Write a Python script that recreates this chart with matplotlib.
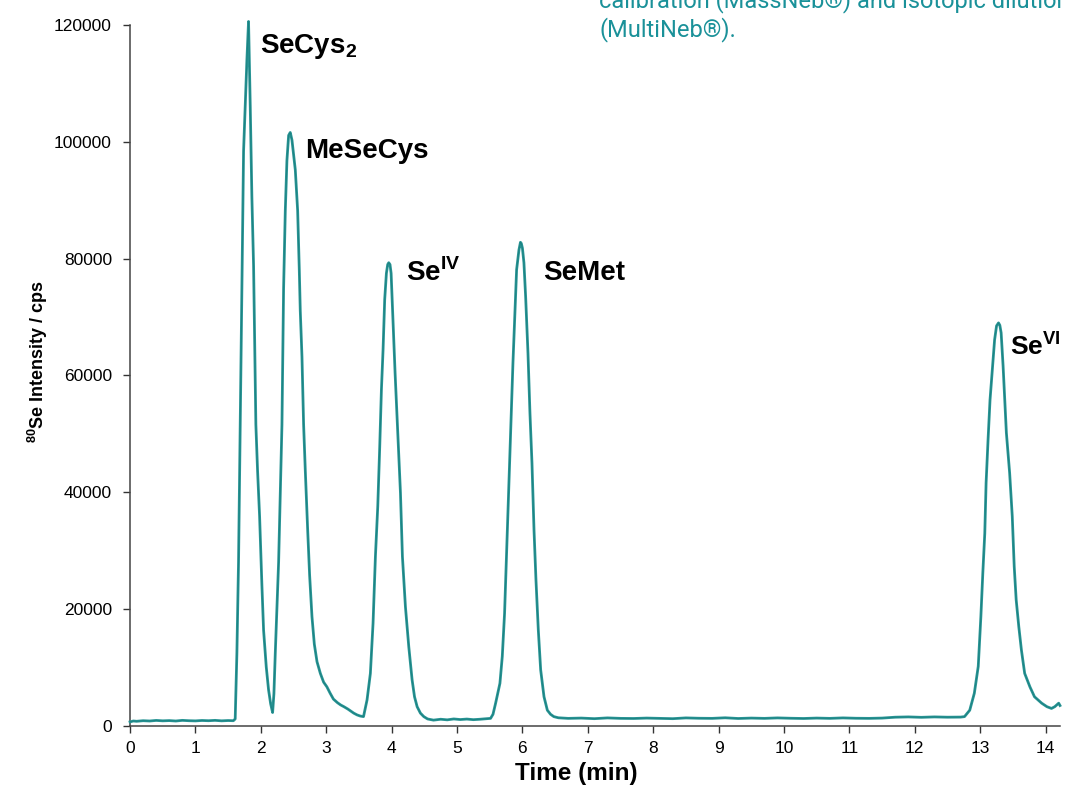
import matplotlib
matplotlib.use("Agg")
import matplotlib.pyplot as plt

# ---- data ----
time_min = [
    0.00, 0.05, 0.10, 0.20, 0.30, 0.40, 0.50, 0.60, 0.70, 0.80, 0.90, 1.00,
    1.10, 1.20, 1.30, 1.40, 1.50, 1.58,
    1.608, 1.634, 1.659, 1.685, 1.710, 1.736, 1.761, 1.787, 1.812, 1.838,
    1.863, 1.889, 1.904, 1.924, 1.950, 1.981, 2.016, 2.042, 2.083, 2.118,
    2.150, 2.180, 2.200, 2.221, 2.272, 2.323, 2.348, 2.374, 2.399, 2.425,
    2.450, 2.476, 2.527, 2.563, 2.588, 2.603, 2.629, 2.654, 2.680, 2.716,
    2.746, 2.782, 2.818, 2.859, 2.910, 2.960, 3.010, 3.060, 3.110, 3.170,
    3.220, 3.270, 3.330, 3.380, 3.420, 3.470, 3.520, 3.570,
    3.624, 3.675, 3.716, 3.752, 3.788, 3.818, 3.844, 3.869, 3.894, 3.920,
    3.940, 3.956, 3.975, 3.992, 4.022, 4.053, 4.094, 4.135, 4.165, 4.211,
    4.262, 4.313, 4.350, 4.390, 4.440, 4.492, 4.550,
    4.64, 4.75, 4.85, 4.95, 5.05, 5.15, 5.25, 5.35, 5.45,
    5.513, 5.550, 5.590, 5.656, 5.692, 5.727, 5.753, 5.778, 5.804, 5.830,
    5.855, 5.885, 5.911, 5.947, 5.970, 5.983, 6.000, 6.023, 6.049, 6.085,
    6.115, 6.146, 6.177, 6.207, 6.243, 6.279, 6.330, 6.381, 6.430, 6.480,
    6.55, 6.70, 6.90, 7.10, 7.30, 7.50, 7.70, 7.90, 8.10, 8.30, 8.50, 8.70,
    8.90, 9.10, 9.30, 9.50, 9.70, 9.90, 10.10, 10.30, 10.50, 10.70, 10.90,
    11.10, 11.30, 11.50, 11.70, 11.90, 12.10, 12.30, 12.50, 12.70,
    12.76, 12.84, 12.91, 12.97, 13.01, 13.04, 13.07, 13.09, 13.12, 13.15,
    13.19, 13.22, 13.25, 13.28, 13.30, 13.32, 13.35, 13.40, 13.45, 13.49,
    13.52, 13.55, 13.59, 13.63, 13.68, 13.76, 13.83, 13.94, 14.02, 14.09,
    14.14, 14.17, 14.20, 14.22,
]
intensity_cps = [
    700, 850, 800, 900, 850, 950, 880, 920, 850, 960, 900, 870,
    940, 900, 960, 880, 930, 900,
    1200, 12500, 28100, 51600, 74900, 98400, 106200, 114000, 120600, 106200,
    90600, 78800, 67100, 51600, 43700, 35900, 24200, 16400, 10100, 6200,
    3800, 2300, 5500, 12500, 28100, 51600, 74900, 88200, 96800, 101100,
    101600, 100300, 95200, 88200, 78100, 71100, 63200, 51600, 43700, 33600,
    25800, 18700, 14000, 11000, 9000, 7500, 6700, 5600, 4600, 4000,
    3600, 3300, 2900, 2500, 2200, 1900, 1700, 1600,
    4450, 9000, 17600, 29000, 37600, 47800, 57600, 64400, 73000, 77500,
    79000, 79300, 79000, 77500, 69000, 60400, 50100, 39900, 29000, 20400,
    13600, 7900, 5000, 3300, 2200, 1600, 1200,
    1000, 1150, 1050, 1200, 1100, 1180, 1080, 1150, 1250,
    1300, 2000, 3900, 7300, 11900, 19300, 27900, 36400, 45000, 53600,
    62100, 70700, 78100, 81500, 82800, 82600, 81800, 79300, 73500, 63800,
    53600, 45000, 33600, 25000, 16400, 9600, 5000, 2700, 2000, 1600,
    1400, 1300, 1350, 1250, 1380, 1300, 1280, 1350, 1300, 1250, 1380, 1320,
    1300, 1400, 1280, 1350, 1300, 1380, 1320, 1280, 1350, 1300, 1380,
    1320, 1300, 1350, 1500, 1550, 1480, 1550, 1500, 1520,
    1600, 2700, 5600, 10200, 18700, 26200, 33000, 41600, 49000, 55800,
    61600, 66100, 68500, 69000, 68600, 67300, 61600, 50200, 43300, 35900,
    27300, 21600, 17000, 13000, 9000, 6700, 5000, 3900, 3300, 3000,
    3300, 3600, 3900, 3500,
]

peak_names = ["SeCys$_\\mathbf{2}$", "MeSeCys", "Se$^{\\mathbf{IV}}$", "SeMet", "Se$^{\\mathbf{VI}}$"]
peak_label_x = [1.99, 2.68, 4.22, 6.32, 13.46]
peak_label_y = [116300, 98500, 77600, 77600, 65100]

x_ticks = list(range(0, 15))
y_ticks = [0, 20000, 40000, 60000, 80000, 100000, 120000]

# ---- figure ----
plt.rcParams['font.family'] = ['Liberation Sans', 'DejaVu Sans']
plt.rcParams['mathtext.fontset'] = 'custom'
plt.rcParams['mathtext.rm'] = 'Liberation Sans'
plt.rcParams['mathtext.bf'] = 'Liberation Sans:bold'

fig = plt.figure(figsize=(10.65, 7.85), dpi=100)
ax = fig.add_axes([0.1221, 0.0752, 0.8732, 0.893])

ax.plot(time_min, intensity_cps, color='#2a9595', lw=2.0, clip_on=False, zorder=3)
ax.plot(time_min, intensity_cps, color='#0f7373', lw=0.6, alpha=0.6, clip_on=False, zorder=4)

ax.set_xlim(0, 14.22)
ax.set_ylim(0, 120000)
ax.set_xticks(x_ticks)
ax.set_yticks(y_ticks)
ax.tick_params(axis='both', direction='out', length=5, width=1, colors='#333333',
               labelsize=12.5, labelcolor='black')
ax.tick_params(axis='x', pad=6)
ax.tick_params(axis='y', pad=8)
for s in ['top', 'right']:
    ax.spines[s].set_visible(False)
for s in ['left', 'bottom']:
    ax.spines[s].set_color('#444444')
    ax.spines[s].set_linewidth(1.1)

label_sizes = [20, 20, 20, 20, 19]
for name, lx, ly, fs in zip(peak_names, peak_label_x, peak_label_y, label_sizes):
    ax.text(lx, ly, name, fontsize=fs, fontweight='bold', ha='left', va='center')

ax.set_xlabel('Time (min)', fontsize=17.5, fontweight='bold', va='center')
ax.xaxis.set_label_coords(0.48, -0.068)
ax.set_ylabel('$^{\\mathbf{80}}$Se Intensity / cps', fontsize=13, fontweight='bold', va='center')
ax.yaxis.set_label_coords(-0.099, 0.52)

teal_txt = '#1a9199'
fig.text(0.5625, 0.991, 'calibration (MassNeb®) and isotopic dilution', fontsize=17,
         family=['Roboto', 'DejaVu Sans'], color=teal_txt, ha='left', va='baseline')
fig.text(0.5625, 0.953, '(MultiNeb®).', fontsize=17,
         family=['Roboto', 'DejaVu Sans'], color=teal_txt, ha='left', va='baseline')

fig.savefig('out.png', dpi=100)
